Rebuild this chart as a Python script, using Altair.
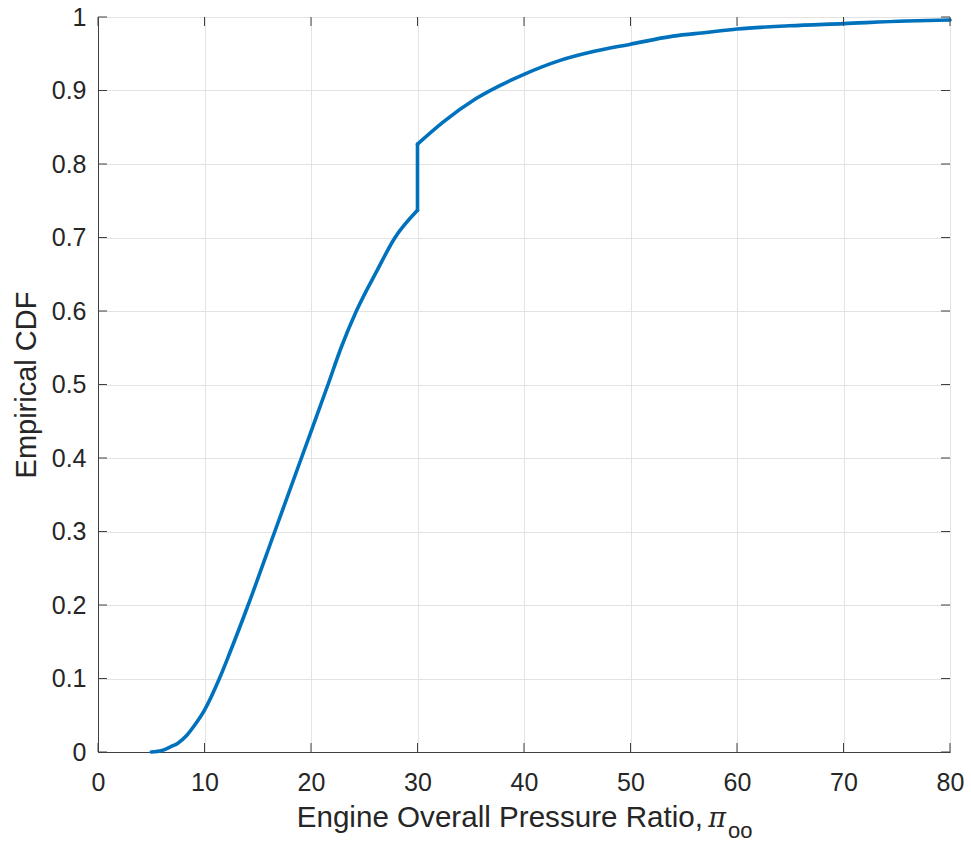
import altair as alt
import pandas as pd

# Empirical CDF (lower branch, jump at 30, upper branch)
opr = [5.0, 6.0, 6.8, 7.5, 8.3, 9.0, 10.0, 11.4, 12.35, 14.1, 16.6, 19.1,
       21.6, 22.85, 24.26, 26.2, 27.85, 30.0,
       30.0, 30.0,
       30.0, 32.4, 35.5, 40.0, 43.4, 46.5, 50.0, 54.0, 57.1, 60.0, 64.9, 70.0, 75.9, 80.0]
cdf = [0.0, 0.002, 0.007, 0.012, 0.022, 0.035, 0.057, 0.1, 0.134, 0.2, 0.3, 0.4,
       0.5, 0.551, 0.6, 0.655, 0.699, 0.737,
       0.737, 0.827,
       0.827, 0.857, 0.889, 0.922, 0.941, 0.953, 0.963, 0.974, 0.979, 0.9837, 0.988, 0.991, 0.9946, 0.996]
segment = ["a"] * 18 + ["b"] * 2 + ["c"] * 14
x_ticks = [0, 10, 20, 30, 40, 50, 60, 70, 80]
y_ticks = [0.0, 0.1, 0.2, 0.3, 0.4, 0.5, 0.6, 0.7, 0.8, 0.9, 1.0]

W, H = 852, 735
FONT = "Liberation Sans"
AX = "#404040"
TXT = "#262626"

df = pd.DataFrame({"opr": opr, "cdf": cdf, "seg": segment, "idx": list(range(len(opr)))})
xt = pd.DataFrame({"opr": x_ticks})
yt = pd.DataFrame({"cdf": y_ticks})
one = pd.DataFrame({"k": [0]})

xscale = alt.Scale(domain=[0, 80], nice=False, zero=False)
yscale = alt.Scale(domain=[0, 1], nice=False)

line = alt.Chart(df).mark_line(color="#0072BD", strokeWidth=3.6, interpolate="monotone",
                               strokeCap="round", strokeJoin="round").encode(
    x=alt.X("opr:Q", scale=xscale,
            axis=alt.Axis(values=x_ticks, title=None, grid=True, gridColor="#e3e3e3",
                          ticks=False, labelFontSize=25, labelFont=FONT, labelColor=TXT,
                          labelPadding=18, domainColor=AX, labelFlush=False)),
    y=alt.Y("cdf:Q", scale=yscale,
            axis=alt.Axis(values=y_ticks, format=".1~f", title="Empirical CDF",
                          grid=True, gridColor="#e3e3e3", ticks=False,
                          labelFontSize=25, labelFont=FONT, labelColor=TXT,
                          labelPadding=12, domainColor=AX, labelFlush=False,
                          titleFontSize=29, titleFont=FONT, titleFontWeight="normal",
                          titleColor=TXT, titlePadding=10)),
    detail="seg:N",
    order="idx:Q",
)

tick_bottom = alt.Chart(xt).mark_rule(color=AX, strokeWidth=1).encode(
    x=alt.X("opr:Q", scale=xscale), y=alt.value(H), y2=alt.value(H - 9))
tick_top = alt.Chart(xt).mark_rule(color=AX, strokeWidth=1).encode(
    x=alt.X("opr:Q", scale=xscale), y=alt.value(0), y2=alt.value(9))
tick_left = alt.Chart(yt).mark_rule(color=AX, strokeWidth=1).encode(
    y=alt.Y("cdf:Q", scale=yscale), x=alt.value(0), x2=alt.value(9))
tick_right = alt.Chart(yt).mark_rule(color=AX, strokeWidth=1).encode(
    y=alt.Y("cdf:Q", scale=yscale), x=alt.value(W), x2=alt.value(W - 9))

t_main = alt.Chart(one).mark_text(font=FONT, fontSize=29.6, color=TXT, align="right",
                                  baseline="alphabetic").encode(
    x=alt.value(605), y=alt.value(810), text=alt.value("Engine Overall Pressure Ratio,"))
t_pi = alt.Chart(one).mark_text(font="DejaVu Serif", fontSize=27, fontStyle="italic",
                                color=TXT, align="center", baseline="alphabetic").encode(
    x=alt.value(619), y=alt.value(810), text=alt.value("π"))
t_sub = alt.Chart(one).mark_text(font=FONT, fontSize=22, color=TXT, align="left",
                                 baseline="alphabetic").encode(
    x=alt.value(630), y=alt.value(821), text=alt.value("oo"))

chart = alt.layer(line, tick_bottom, tick_top, tick_left, tick_right, t_main, t_pi, t_sub).properties(
    width=W, height=H,
    autosize=alt.AutoSizeParams(type="none"),
    padding={"left": 98, "top": 17, "right": 21, "bottom": 91},
    background="white",
).configure_view(stroke=AX, strokeWidth=1)

chart.save("out.html", embed_options={"renderer": "svg", "actions": False})
